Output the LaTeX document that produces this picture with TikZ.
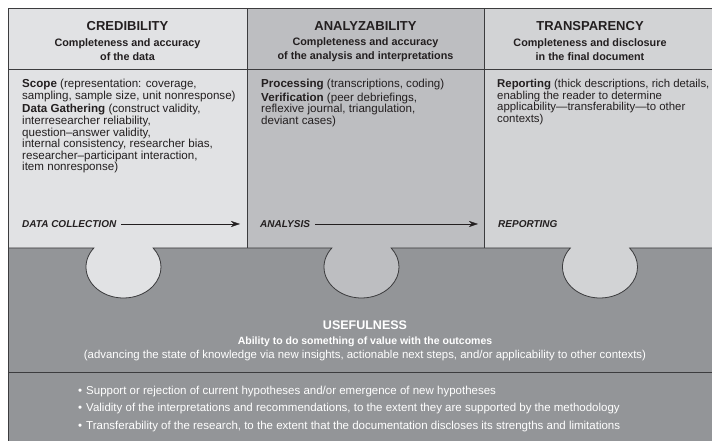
\documentclass[tikz,border=0pt]{standalone}
\usepackage{fontspec}
\setmainfont{Liberation Sans}
\usetikzlibrary{arrows.meta}
\definecolor{credcol}{HTML}{E1E2E4}
\definecolor{anacol}{HTML}{BDBEC1}
\definecolor{trancol}{HTML}{D2D3D5}
\definecolor{usecol}{HTML}{939598}
\definecolor{linecol}{HTML}{3C3C3E}
\definecolor{inkcol}{HTML}{231F20}
\tikzset{
  title/.style={font=\fontsize{13}{13}\selectfont\bfseries, text=inkcol, inner sep=0pt},
  sub/.style={font=\fontsize{10.8}{14}\selectfont\bfseries, align=center, text=inkcol, inner sep=0pt},
  body/.style={font=\fontsize{11.6}{11.6}\selectfont, align=left, text=inkcol, inner sep=0pt, anchor=north west},
  phase/.style={font=\fontsize{10}{10}\selectfont\bfseries\itshape, text=inkcol, inner sep=0pt, anchor=west},
  phasearrow/.style={-{Stealth[length=9pt,width=6pt]}, inkcol, shorten <=5pt},
  frame/.style={linecol, line width=0.8pt},
  usetext/.style={text=white, inner sep=0pt}
}
\begin{document}
\begin{tikzpicture}[x=1pt,y=1pt]
\useasboundingbox (0,0) rectangle (712,441);
% the three column pieces
\fill[credcol] (8,120) rectangle (247,433);
\fill[anacol] (247,120) rectangle (484,433);
\fill[trancol] (484,120) rectangle (712,433);
% usefulness piece, tabs cut out
\fill[usecol] (8,193)
  \foreach \c in {123.5,361.5,600}{
    -- (\c-29.63,193) arc[start angle=142.2, end angle=397.8, x radius=37.5, y radius=31]
  } -- (712,193) -- (712,0) -- (8,0) -- cycle;
\draw[frame] (8,193)
  \foreach \c in {123.5,361.5,600}{
    -- (\c-29.63,193) arc[start angle=142.2, end angle=397.8, x radius=37.5, y radius=31]
  } -- (712,193);
\draw[frame] (8,0) -- (8,433) -- (712,433);
\draw[frame] (8,372) -- (712,372);
\draw[frame] (247,193) -- (247,433) (484,193) -- (484,433);
\draw[frame] (8,69) -- (712,69);
% headers
\foreach \n/\x/\t/\s in {cred/127.5/CREDIBILITY/{Completeness and accuracy\\of the data},
    ana/365.5/ANALYZABILITY/{Completeness and accuracy\\of the analysis and interpretations},
    tran/590/TRANSPARENCY/{Completeness and disclosure\\in the final document}}{
  \node[title] (\n-title) at (\x,415) {\t};
  \node[sub] (\n-sub) at (\x,391) {\s};
}
% column contents
\node[body] (cred-body) at (22,362) {\textbf{Scope} (representation: coverage,\\
  sampling, sample size, unit nonresponse)\\[2pt]
  \textbf{Data Gathering} (construct validity,\\
  interresearcher reliability,\\
  question--answer validity,\\
  internal consistency, researcher bias,\\
  researcher--participant interaction,\\
  item nonresponse)};
\node[body] (ana-body) at (261,362) {\textbf{Processing} (transcriptions, coding)\\[2pt]
  \textbf{Verification} (peer debriefings,\\
  reflexive journal, triangulation,\\
  deviant cases)};
\node[body, font=\fontsize{11.4}{11.6}\selectfont] (tran-body) at (497,362) {\textbf{Reporting} (thick descriptions, rich details,\\
  enabling the reader to determine\\
  applicability---transferability---to other\\
  contexts)};
% phases
\node[phase] (collect) at (22,217) {DATA COLLECTION};
\coordinate (collect-end) at (240,217);
\draw[phasearrow] (collect) -- (collect-end);
\node[phase] (analysis) at (260,217) {ANALYSIS};
\coordinate (analysis-end) at (478,217);
\draw[phasearrow] (analysis) -- (analysis-end);
\node[phase] (reporting) at (498,217) {REPORTING};
% usefulness
\node[usetext, font=\fontsize{12.5}{12.5}\selectfont\bfseries] (use-title) at (365,116) {USEFULNESS};
\node[usetext, font=\fontsize{10.5}{10.5}\selectfont\bfseries] (use-sub) at (365,99) {Ability to do something of value with the outcomes};
\node[usetext, font=\fontsize{11.4}{11.4}\selectfont] (use-note) at (365,85) {(advancing the state of knowledge via new insights, actionable next steps, and/or applicability to other contexts)};
\foreach \i/\y/\t in {1/49/{Support or rejection of current hypotheses and/or emergence of new hypotheses},
    2/32/{Validity of the interpretations and recommendations, to the extent they are supported by the methodology},
    3/14/{Transferability of the research, to the extent that the documentation discloses its strengths and limitations}}{
  \node[usetext, anchor=west, font=\fontsize{11.5}{11.5}\selectfont] (use-item\i) at (78,\y) {\textbullet\hspace{4pt}\t};
}
\end{tikzpicture}
\end{document}
